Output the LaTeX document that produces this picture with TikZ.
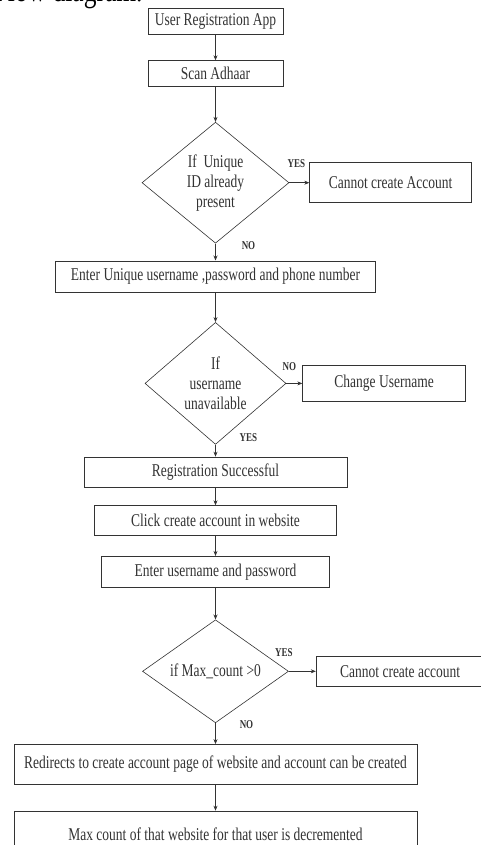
\documentclass[tikz,border=0pt]{standalone}
\usepackage{fontspec}
\setmainfont{Liberation Serif}[FakeStretch=0.75]
\usetikzlibrary{positioning}
\usetikzlibrary{shapes.geometric}
\usetikzlibrary{arrows.meta}

\begin{document}
\begin{tikzpicture}[line width=0.6pt,color=black!80,>={Stealth[length=5pt,width=4pt]},
  font=\fontsize{18}{20}\selectfont,
  box/.style={draw,minimum height=26pt,inner sep=2pt},
  decision/.style={diamond,draw,aspect=1.2,inner sep=1pt,align=center},
  yesno/.style={font=\bfseries\fontsize{12}{14}\selectfont}]
  \useasboundingbox (-215.5pt,21pt) rectangle (265.5pt,-824pt);
  \node[anchor=base west,black,inner sep=0pt,font=\fontsize{34}{36}\selectfont](title) at (-222pt,19pt) {Flow diagram.};
  \node[box,minimum width=135pt](app) {User Registration App};
  \node[box,minimum width=135pt,below=26pt of app](scan) {Scan Adhaar};
  \node[decision,minimum width=147pt,minimum height=121pt,below=35pt of scan](uid) {If\ \ Unique\\ID already\\present};
  \node[box,minimum width=162pt,minimum height=40pt,right=20pt of uid](nocreate) {Cannot create Account};
  \node[box,minimum width=320pt,minimum height=31pt,below=17pt of uid](enter) {Enter Unique username ,password and phone number};
  \node[decision,minimum width=141pt,minimum height=122pt,below=30pt of enter](avail) {If\\username\\unavailable};
  \node[box,minimum width=163pt,minimum height=36pt,right=16pt of avail](change) {Change Username};
  \node[box,minimum width=263pt,minimum height=30pt,below=12pt of avail](success) {Registration Successful};
  \node[box,minimum width=242pt,minimum height=30pt,below=18pt of success](click) {Click create account in website};
  \node[box,minimum width=228pt,minimum height=31pt,below=20pt of click](login) {Enter username and password};
  \node[decision,minimum width=146pt,minimum height=103pt,below=32pt of login](maxc) {if Max\_count >0};
  \node[box,minimum width=168pt,minimum height=30pt,right=27pt of maxc](nocreate2) {Cannot create account};
  \node[box,minimum width=403pt,minimum height=40pt,below=21pt of maxc](redirect) {Redirects to create account page of website and account can be created};
  \node[box,minimum width=403pt,minimum height=46pt,below=26pt of redirect](decr) {Max count of that website for that user is decremented};
  % branch labels
  \node[yesno](yes1) at ([xshift=7pt,yshift=19pt]uid.east) {YES};
  \node[yesno](no1) at ([xshift=33pt,yshift=-2pt]uid.south) {NO};
  \node[yesno](no2) at ([xshift=3pt,yshift=17pt]avail.east) {NO};
  \node[yesno](yes2) at ([xshift=33pt,yshift=7pt]avail.south) {YES};
  \node[yesno](yes3) at ([xshift=-5pt,yshift=19pt]maxc.east) {YES};
  \node[yesno](no3) at ([xshift=31pt,yshift=-1pt]maxc.south) {NO};
  \draw[->] (app)--(scan);
  \draw[->] (scan)--(uid);
  \draw[->] (uid)--(nocreate);
  \draw[->] (uid)--(enter);
  \draw[->] (enter)--(avail);
  \draw[->] (avail)--(change);
  \draw[->] (avail)--(success);
  \draw[->] (success)--(click);
  \draw[->] (click)--(login);
  \draw[->] (login)--(maxc);
  \draw[->] (maxc)--(nocreate2);
  \draw[->] (maxc)--(redirect);
  \draw[->] (redirect)--(decr);
\end{tikzpicture}
\end{document}
